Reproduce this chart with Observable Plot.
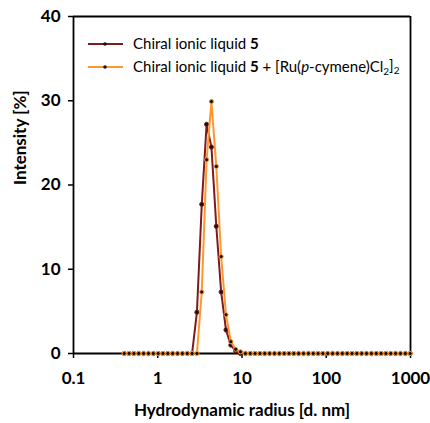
<!DOCTYPE html>
<html>
<head>
<meta charset="utf-8">
<script src="https://cdn.jsdelivr.net/npm/d3@7"></script>
<script src="https://cdn.jsdelivr.net/npm/@observablehq/plot@0.6"></script>
<style>
  html, body { margin: 0; padding: 0; background: #fff; }
  #chart { width: 430px; height: 423px; }
</style>
</head>
<body>
<div id="chart"></div>
<script>
// Size bins (hydrodynamic radius, nm)
const radius = [0.400, 0.4566, 0.5213, 0.5951, 0.6794, 0.7756, 0.8855, 1.011, 1.154, 1.317,
  1.504, 1.717, 1.960, 2.238, 2.555, 2.917, 3.330, 3.801, 4.339, 4.954,
  5.655, 6.457, 7.371, 8.414, 9.605, 10.97, 12.52, 14.29, 16.32, 18.63,
  21.27, 24.28, 27.72, 31.64, 36.13, 41.24, 47.08, 53.75, 61.36, 70.04,
  79.97, 91.29, 104.2, 119.0, 135.8, 155.1, 177.0, 202.1, 230.7, 263.4,
  300.7, 343.3, 391.9, 447.4, 510.7, 583.2, 665.7, 760.0, 867.6, 990.1];
// Intensity [%], Chiral ionic liquid 5
const intensityIL = [0, 0, 0, 0, 0, 0, 0, 0, 0, 0,
  0, 0, 0, 0, 0, 4.9, 17.7, 27.2, 24.5, 15.1,
  7.3, 2.8, 1.0, 0.3, 0, 0, 0, 0, 0, 0,
  0, 0, 0, 0, 0, 0, 0, 0, 0, 0,
  0, 0, 0, 0, 0, 0, 0, 0, 0, 0,
  0, 0, 0, 0, 0, 0, 0, 0, 0, 0];
// Intensity [%], Chiral ionic liquid 5 + [Ru(p-cymene)Cl2]2
const intensityILRu = [0, 0, 0, 0, 0, 0, 0, 0, 0, 0,
  0, 0, 0, 0, 0, 0, 7.3, 23.0, 29.9, 22.2,
  11.5, 4.6, 1.4, 0.5, 0.2, 0, 0, 0, 0, 0,
  0, 0, 0, 0, 0, 0, 0, 0, 0, 0,
  0, 0, 0, 0, 0, 0, 0, 0, 0, 0,
  0, 0, 0, 0, 0, 0, 0, 0, 0, 0];
const xTicks = [0.1, 1, 10, 100, 1000];
const yTicks = [0, 10, 20, 30, 40];
const xDomain = [0.1, 1000];
const yDomain = [0, 40];
const xTitle = "Hydrodynamic radius [d. nm]";
const yTitle = "Intensity [%]";

const colorIL = "#7e1b1b";
const colorRu = "#ff962e";

const s1 = radius.map((r, i) => ({r, v: intensityIL[i]}));
const s2 = radius.map((r, i) => ({r, v: intensityILRu[i]}));

const font = "Lato, 'Open Sans', sans-serif";

const plot = Plot.plot({
  width: 430,
  height: 423,
  marginLeft: 73,
  marginRight: 20,
  marginTop: 16,
  marginBottom: 70,
  style: {fontFamily: font, fontSize: "17px", fontWeight: "bold", color: "#000", background: "#fff"},
  x: {type: "log", domain: xDomain},
  y: {domain: yDomain},
  marks: [
    Plot.axisX({ticks: xTicks, tickFormat: d => String(d), tickSize: 5, tickPadding: 13, label: null, strokeWidth: 1.5}),
    Plot.axisY({ticks: yTicks, tickSize: 5, tickPadding: 8, label: null, strokeWidth: 1.5}),
    Plot.ruleY(yDomain, {stroke: "#000", strokeWidth: 1.8}),
    Plot.ruleX(xDomain, {stroke: "#000", strokeWidth: 1.8}),
    Plot.line(s1, {x: "r", y: "v", stroke: colorIL, strokeWidth: 2}),
    Plot.dot(s1, {x: "r", y: "v", r: 2.1, fill: "#111", stroke: colorIL, strokeWidth: 1}),
    Plot.line(s2, {x: "r", y: "v", stroke: colorRu, strokeWidth: 2}),
    Plot.dot(s2, {x: "r", y: "v", r: 2.1, fill: "#111", stroke: colorRu, strokeWidth: 1}),
    Plot.text([xTitle], {frameAnchor: "bottom", dy: 57, lineAnchor: "middle", fontSize: 17, fontWeight: "bold"}),
    Plot.text([yTitle], {frameAnchor: "left", dx: -53, rotate: -90, lineAnchor: "middle", fontSize: 17, fontWeight: "bold"})
  ]
});
document.getElementById("chart").appendChild(plot);

// Legend
const svg = d3.select(plot);
const lg = svg.append("g").attr("font-family", font).attr("font-size", 15)
  .attr("font-weight", "normal").attr("text-anchor", "start");
const items = [
  {y: 44, color: colorIL},
  {y: 67, color: colorRu}
];
items.forEach(it => {
  lg.append("line").attr("x1", 88).attr("x2", 123).attr("y1", it.y).attr("y2", it.y)
    .attr("stroke", it.color).attr("stroke-width", 2);
  lg.append("circle").attr("cx", 105).attr("cy", it.y).attr("r", 1.8).attr("fill", "#111");
});
const t1 = lg.append("text").attr("x", 133).attr("y", 44).attr("dy", "0.35em");
t1.append("tspan").text("Chiral ionic liquid ");
t1.append("tspan").attr("font-weight", "bold").text("5");
const t2 = lg.append("text").attr("x", 133).attr("y", 67).attr("dy", "0.35em");
t2.append("tspan").text("Chiral ionic liquid ");
t2.append("tspan").attr("font-weight", "bold").text("5");
t2.append("tspan").text(" + [Ru(");
t2.append("tspan").attr("font-style", "italic").text("p");
t2.append("tspan").text("-cymene)Cl");
t2.append("tspan").attr("font-size", 10).attr("dy", "0.3em").text("2");
t2.append("tspan").attr("dy", "-0.3em").text("]");
t2.append("tspan").attr("font-size", 10).attr("dy", "0.3em").text("2");
</script>
</body>
</html>
